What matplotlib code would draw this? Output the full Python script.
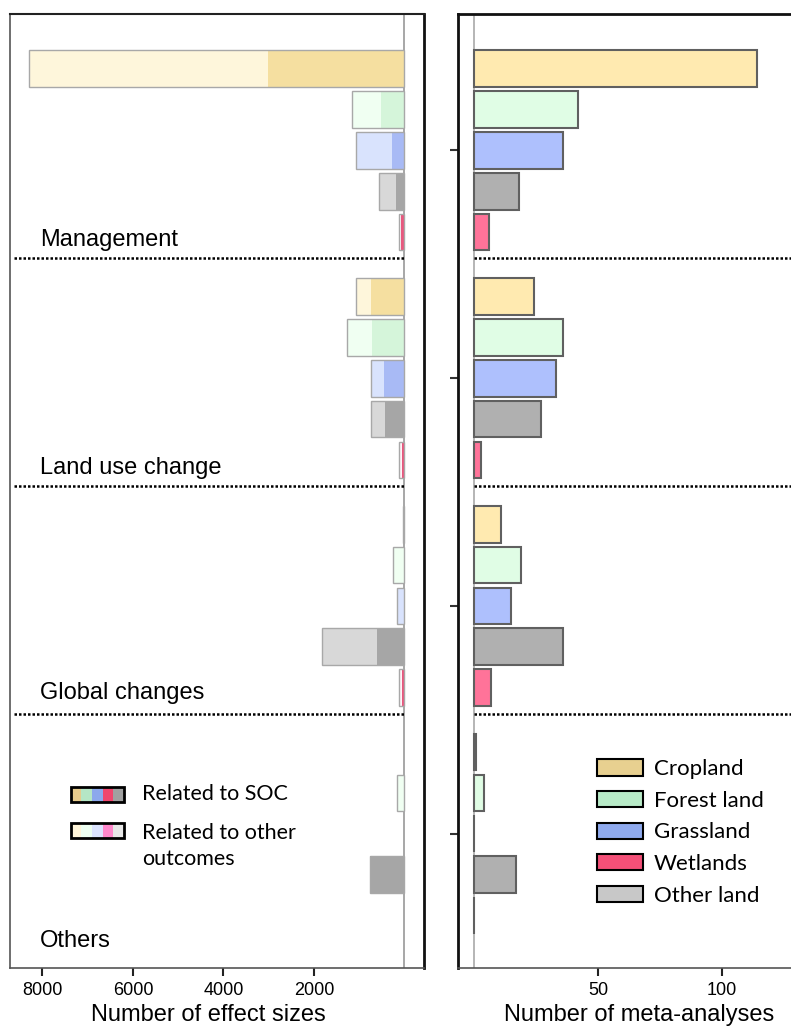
import numpy as np
import matplotlib
matplotlib.use('Agg')
import matplotlib.pyplot as plt
from matplotlib.patches import Rectangle, Patch

# data
groups = ['Management', 'Land use change', 'Global changes', 'Others']
lands = ['Cropland', 'Forest land', 'Grassland', 'Other land', 'Wetlands']

# number of effect sizes, all outcomes (SOC + other outcomes)
effect_total = [
    [8290, 1150, 1070, 553, 120],
    [1070, 1270, 740, 740, 115],
    [30, 248, 160, 1830, 115],
    [0, 160, 0, 770, 0],
]
# number of effect sizes related to SOC
effect_soc = [
    [3020, 520, 276, 188, 77],
    [740, 725, 453, 437, 55],
    [20, 0, 15, 615, 62],
    [0, 0, 0, 770, 0],
]
# number of meta-analyses
n_meta = [
    [114, 42, 36, 18, 6],
    [24, 36, 33, 27, 3],
    [11, 19, 15, 36, 7],
    [1, 4, 0, 17, 0],
]

left_ticks = [8000, 6000, 4000, 2000]
right_ticks = [50, 100]

# colours
soc_col = ['#F5DFA0', '#D5F5DA', '#A8BAF5', '#A6A6A6', '#E8587E']
oth_col = ['#FEF6DB', '#F0FFF2', '#D9E3FD', '#D8D8D8', '#FFF3F7']
meta_col = ['#FFEAB0', '#E0FDE5', '#AEC0FD', '#B0B0B0', '#FF7399']
leg_soc = ['#E6CB8C', '#B5E6C5', '#8CA8EC', '#F0466E', '#A0A0A0']
leg_oth = ['#FFF5D9', '#EEFFF2', '#DCE4FF', '#FF88CC', '#E8E8E8']
leg_land = ['#E8D090', '#B8EBC8', '#8FAAEE', '#F45078', '#C8C8C8']
leg_names = ['Cropland', 'Forest land', 'Grassland', 'Wetlands', 'Other land']

sans = 'Liberation Sans'
cal = 'Lato'

G = 5.57   # group step
H = 0.9    # bar height
label_off = [4.2, 4.2, 4.13, 4.62]

fig = plt.figure(figsize=(7.91, 10.28), dpi=100)
ax1 = fig.add_axes([10/791, 60/1028, 414/791, 954/1028])
ax2 = fig.add_axes([458/791, 60/1028, 333/791, 954/1028])

ypos = np.array([[g*G + i for i in range(5)] for g in range(4)])

# ---- left panel: effect sizes ----
for g in range(4):
    for i in range(5):
        y = ypos[g, i]
        tot = effect_total[g][i]
        soc = effect_soc[g][i]
        if tot == 0:
            continue
        ax1.barh(y, tot, height=H, color=oth_col[i], edgecolor='none', zorder=2)
        ax1.barh(y, soc, height=H, color=soc_col[i], edgecolor='none', zorder=3)
        ax1.barh(y, tot, height=H, fill=False, edgecolor='#A8A8A8', linewidth=1, zorder=4)
    ax1.text(8050, g*G + label_off[g], groups[g], fontsize=17, family=sans,
             va='center', ha='left', zorder=5)
    if g < 3:
        ax1.hlines(g*G + 4.64, 8630, 0, colors='black', linestyles=(0, (1, 0.8)),
                   linewidth=1.8, zorder=5)

ax1.axvline(0, color='#A0A0A0', linewidth=1.3, zorder=1)
ax1.set_xlim(8718, -431)
ax1.set_ylim(21.99, -1.33)
ax1.set_yticks([])
ax1.set_xticks(left_ticks)
ax1.set_xticklabels([str(t) for t in left_ticks], fontsize=13, family=sans)
ax1.tick_params(axis='x', length=6, width=1.5, color='#222222', pad=4)
ax1.set_xlabel('Number of effect sizes', fontsize=17, family=sans)
ax1.xaxis.set_label_coords(0.478, -0.038)
for side in ['left', 'bottom']:
    ax1.spines[side].set_color('#555555')
    ax1.spines[side].set_linewidth(1.2)
ax1.spines['top'].set_color('#222222')
ax1.spines['top'].set_linewidth(1.5)
ax1.spines['right'].set_color('#111111')
ax1.spines['right'].set_linewidth(2)

# legend for SOC / other outcomes (multi coloured keys)
def key(ax, x0, y0, cols):
    w = 0.128 / 5
    for k, c in enumerate(cols):
        ax.add_patch(Rectangle((x0 + k*w, y0), w, 0.016, transform=ax.transAxes,
                               facecolor=c, edgecolor='none', zorder=6))
    ax.add_patch(Rectangle((x0, y0), 0.128, 0.016, transform=ax.transAxes,
                           fill=False, edgecolor='black', linewidth=2, zorder=7))

key(ax1, 0.147, 0.174, leg_soc)
key(ax1, 0.147, 0.136, leg_oth)
ax1.text(0.319, 0.182, 'Related to SOC', transform=ax1.transAxes, fontsize=15.5,
         family=cal, va='center', ha='left')
ax1.text(0.319, 0.128, 'Related to other\noutcomes', transform=ax1.transAxes,
         fontsize=15.5, family=cal, va='center', ha='left', linespacing=1.35)

# ---- right panel: meta-analyses ----
for g in range(4):
    for i in range(5):
        ax2.barh(ypos[g, i], n_meta[g][i], height=H, color=meta_col[i],
                 edgecolor='#606060', linewidth=1.5, zorder=3)
    if g < 3:
        ax2.hlines(g*G + 4.64, 0, 130, colors='black', linestyles=(0, (1, 0.8)),
                   linewidth=1.8, zorder=5)

ax2.axvline(0, color='#B0B0B0', linewidth=1.3, zorder=1)
ax2.set_xlim(-6.45, 127.8)
ax2.set_ylim(21.99, -1.33)
ax2.set_yticks([g*G + 2 for g in range(4)])
ax2.set_yticklabels([])
ax2.tick_params(axis='y', length=6, width=1.5, color='#333333')
ax2.set_xticks(right_ticks)
ax2.set_xticklabels([str(t) for t in right_ticks], fontsize=13, family=sans)
ax2.tick_params(axis='x', length=6, width=1.5, color='#222222', pad=4)
ax2.set_xlabel('Number of meta-analyses', fontsize=17, family=sans)
ax2.xaxis.set_label_coords(0.545, -0.038)
ax2.spines['right'].set_visible(False)
ax2.spines['left'].set_color('#111111')
ax2.spines['left'].set_linewidth(2)
ax2.spines['top'].set_color('#111111')
ax2.spines['top'].set_linewidth(2)
ax2.spines['bottom'].set_color('#555555')
ax2.spines['bottom'].set_linewidth(1.2)

handles = [Patch(facecolor=c, edgecolor='black', linewidth=1.5) for c in leg_land]
ax2.legend(handles, leg_names, loc='upper left', bbox_to_anchor=(0.391, 0.228),
           frameon=False, prop={'family': cal, 'size': 16},
           handlelength=2.05, handleheight=0.75, handletextpad=0.5,
           labelspacing=0.52, borderaxespad=0)

fig.savefig('out.png', dpi=100)
